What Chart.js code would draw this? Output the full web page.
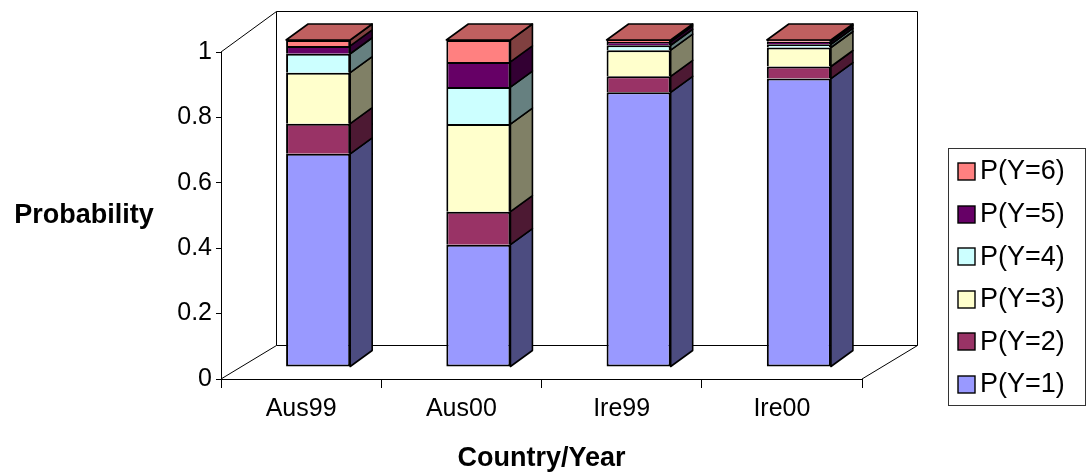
<!DOCTYPE html>
<html>
<head>
<meta charset="utf-8">
<script src="https://cdn.jsdelivr.net/npm/chart.js@4/dist/chart.umd.min.js"></script>
<style>
  html, body { margin: 0; padding: 0; background: #fff; }
  canvas { display: block; }
</style>
</head>
<body>
<canvas id="chart" width="1088" height="475"></canvas>
<script>
// Categories and stacked probabilities per country/year
const categories = ['Aus99', 'Aus00', 'Ire99', 'Ire00'];
const seriesLabels = ['P(Y=1)', 'P(Y=2)', 'P(Y=3)', 'P(Y=4)', 'P(Y=5)', 'P(Y=6)'];
const pY1 = [0.652, 0.374, 0.840, 0.882];
const pY2 = [0.092, 0.101, 0.049, 0.037];
const pY3 = [0.156, 0.268, 0.080, 0.058];
const pY4 = [0.058, 0.113, 0.015, 0.010];
const pY5 = [0.024, 0.077, 0.010, 0.008];
const pY6 = [0.018, 0.067, 0.006, 0.005];
const yTicks = [0, 0.2, 0.4, 0.6, 0.8, 1];

const seriesValues = [pY1, pY2, pY3, pY4, pY5, pY6];
const frontColors = ['#9999FF', '#993366', '#FFFFCC', '#CCFFFF', '#660066', '#FF8080'];
const sideColors  = ['#4C4C80', '#4D1933', '#808066', '#668080', '#330033', '#804040'];
const topColor = '#C06060';

// 3D geometry
const BAR_SHIFT = { x: 17, y: -12 };   // bar front face sits a third into the floor
const BAR_DEPTH = { x: 22, y: -16 };   // bar depth
const WALL = { dx: 55, dyBottom: -34, dyTop: -41 };

Chart.defaults.font.family = "'Liberation Sans', Arial, sans-serif";
Chart.defaults.color = '#000';

const walls3d = {
  id: 'walls3d',
  beforeDatasetsDraw(chart) {
    const { ctx, chartArea: a } = chart;
    const bl = { x: a.left + WALL.dx, y: a.bottom + WALL.dyBottom };
    const tl = { x: a.left + WALL.dx, y: a.top + WALL.dyTop };
    const br = { x: a.right + WALL.dx, y: a.bottom + WALL.dyBottom };
    ctx.save();
    ctx.strokeStyle = '#000';
    ctx.lineWidth = 1;
    ctx.beginPath();
    // back wall
    ctx.rect(Math.round(tl.x) + 0.5, Math.round(tl.y) + 0.5,
             Math.round(br.x - tl.x), Math.round(bl.y - tl.y));
    // side wall edges
    ctx.moveTo(a.left, a.top);
    ctx.lineTo(tl.x + 0.5, tl.y + 0.5);
    ctx.moveTo(a.left, a.bottom);
    ctx.lineTo(bl.x + 0.5, bl.y + 0.5);
    // floor right edge
    ctx.moveTo(a.right, a.bottom);
    ctx.lineTo(br.x + 0.5, br.y + 0.5);
    ctx.stroke();
    ctx.restore();

    // bars are drawn shifted back into the floor
    ctx.save();
    ctx.translate(BAR_SHIFT.x, BAR_SHIFT.y);
  },
  afterDatasetsDraw(chart) {
    const { ctx } = chart;
    const n = chart.data.labels.length;
    ctx.lineWidth = 1.6;
    ctx.lineJoin = 'round';
    ctx.strokeStyle = '#000';
    for (let i = 0; i < n; i++) {
      let topEl = null;
      chart.data.datasets.forEach((ds, d) => {
        const el = chart.getDatasetMeta(d).data[i];
        const p = el.getProps(['x', 'y', 'base', 'width'], true);
        const right = p.x + p.width / 2;
        ctx.beginPath();
        ctx.moveTo(right, p.y);
        ctx.lineTo(right + BAR_DEPTH.x, p.y + BAR_DEPTH.y);
        ctx.lineTo(right + BAR_DEPTH.x, p.base + BAR_DEPTH.y);
        ctx.lineTo(right, p.base);
        ctx.closePath();
        ctx.fillStyle = sideColors[d];
        ctx.fill();
        ctx.stroke();
        topEl = p;
      });
      const p = topEl;
      const left = p.x - p.width / 2, right = p.x + p.width / 2;
      ctx.beginPath();
      ctx.moveTo(left, p.y);
      ctx.lineTo(left + BAR_DEPTH.x, p.y + BAR_DEPTH.y);
      ctx.lineTo(right + BAR_DEPTH.x, p.y + BAR_DEPTH.y);
      ctx.lineTo(right, p.y);
      ctx.closePath();
      ctx.fillStyle = topColor;
      ctx.fill();
      ctx.stroke();
    }
    ctx.restore();
  },
  afterDraw(chart) {
    const { ctx } = chart;
    ctx.save();
    // vertical axis title, written horizontally
    ctx.fillStyle = '#000';
    ctx.font = "bold 27px 'Liberation Sans', Arial, sans-serif";
    ctx.textAlign = 'center';
    ctx.textBaseline = 'middle';
    ctx.fillText('Probability', 84, 216);

    // legend box, last series on top
    const box = { left: 948, top: 148, right: 1085, bottom: 405 };
    ctx.strokeStyle = '#333';
    ctx.lineWidth = 1;
    ctx.strokeRect(box.left + 0.5, box.top + 0.5, box.right - box.left, box.bottom - box.top);
    ctx.font = "27px 'Liberation Sans', Arial, sans-serif";
    ctx.textAlign = 'left';
    const items = chart.data.datasets.map((ds, d) => ({ label: ds.label, color: frontColors[d] })).reverse();
    items.forEach((it, k) => {
      const cy = 171 + k * 42.6;
      ctx.fillStyle = it.color;
      ctx.fillRect(958, Math.round(cy - 8), 17, 17);
      ctx.strokeStyle = '#000';
      ctx.lineWidth = 1.4;
      ctx.strokeRect(958, Math.round(cy - 8), 17, 17);
      ctx.fillStyle = '#000';
      ctx.fillText(it.label, 980, cy + 1);
    });
    ctx.restore();
  }
};

const datasets = seriesValues.map((vals, d) => ({
  label: seriesLabels[d],
  data: vals,
  backgroundColor: frontColors[d],
  borderColor: '#000',
  borderWidth: 2,
  borderSkipped: d === 0 ? false : 'start',
  categoryPercentage: 0.8,
  barPercentage: 0.5,
  clip: false
}));

new Chart(document.getElementById('chart'), {
  type: 'bar',
  data: { labels: categories, datasets },
  options: {
    responsive: false,
    animation: false,
    devicePixelRatio: 1,
    events: [],
    layout: { padding: { top: 52, right: 226, bottom: 0, left: 0 } },
    plugins: { legend: { display: false }, tooltip: { enabled: false } },
    scales: {
      x: {
        stacked: true,
        offset: true,
        grid: { offset: true, drawOnChartArea: false, drawTicks: true, tickLength: 9, color: '#000', lineWidth: 1 },
        border: { display: true, color: '#000', width: 1 },
        ticks: { color: '#000', font: { size: 25 }, padding: 6, maxRotation: 0 },
        title: { display: true, text: 'Country/Year', color: '#000', font: { size: 27, weight: 'bold' }, padding: { top: 4, bottom: 0 } },
        afterFit: s => { s.height = 96; }
      },
      y: {
        stacked: true,
        min: 0,
        max: 1,
        afterBuildTicks: s => { s.ticks = yTicks.map(v => ({ value: v })); },
        grid: { drawOnChartArea: false, drawTicks: true, tickLength: 5, color: '#000', lineWidth: 1 },
        border: { display: true, color: '#000', width: 1 },
        ticks: { color: '#000', font: { size: 25 }, padding: 4, callback: v => String(v) },
        afterFit: s => { s.width = 221; }
      }
    }
  },
  plugins: [walls3d]
});
</script>
</body>
</html>
